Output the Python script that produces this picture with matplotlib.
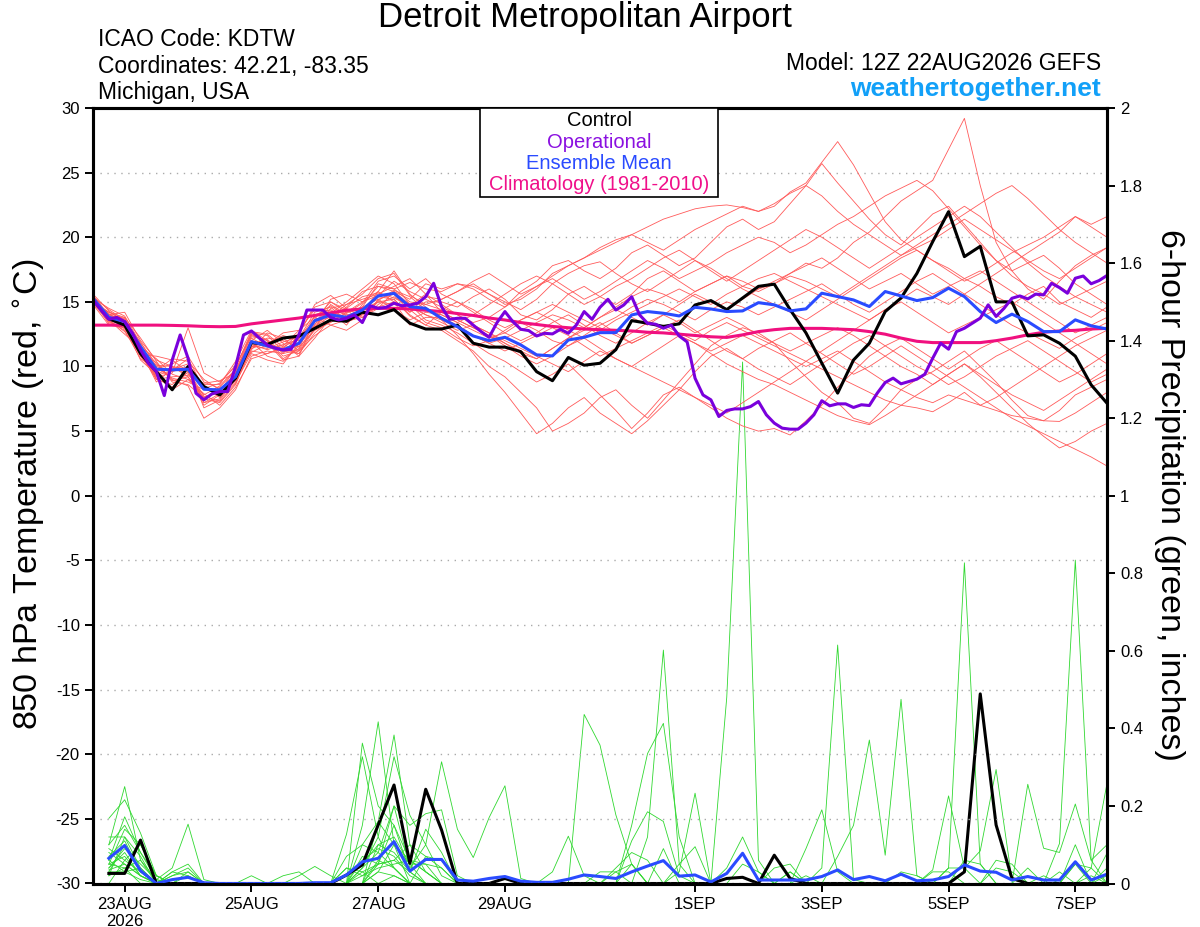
import matplotlib
matplotlib.use("Agg")
import matplotlib.pyplot as plt
from matplotlib.patches import Rectangle
import numpy as np
import pandas as pd

plt.rcParams['font.family'] = ['Liberation Sans', 'DejaVu Sans']
plt.rcParams['axes.unicode_minus'] = False

# 6-hourly ensemble times, 3-hourly operational run
times = pd.date_range("2026-08-22 12:00", periods=65, freq="6h")
times_oper = pd.date_range("2026-08-22 12:00", periods=129, freq="3h")
times_precip = times[1:]

tick_days = pd.to_datetime(["2026-08-23", "2026-08-25", "2026-08-27", "2026-08-29",
                            "2026-09-01", "2026-09-03", "2026-09-05", "2026-09-07"])
tick_names = ["23AUG\n2026", "25AUG", "27AUG", "29AUG", "1SEP", "3SEP", "5SEP", "7SEP"]

# 850 hPa temperature (C)
control_temp = [15.15, 13.7, 13.2, 11.0, 9.6, 8.2, 10.0, 8.45, 7.8, 9.1, 11.85, 11.7, 12.2, 12.35,
                12.95, 13.6, 13.5, 14.2, 14.0, 14.4, 13.35, 12.9, 12.9, 13.2, 11.8, 11.5, 11.5, 11.15,
                9.6, 8.9, 10.7, 10.1, 10.25, 11.3, 13.55, 13.35, 13.1, 13.3, 14.76, 15.1, 14.4, 15.3,
                16.2, 16.37, 14.4, 12.6, 10.26, 7.94, 10.5, 11.8, 14.25, 15.3, 17.2, 19.66, 21.98,
                18.5, 19.3, 15.0, 15.0, 12.37, 12.45, 11.8, 10.8, 8.58, 7.16]

mean_temp = [15.28, 13.81, 13.47, 11.54, 9.79, 9.74, 9.79, 8.24, 8.19, 9.22, 11.93, 11.59, 11.28, 11.8,
             13.55, 13.99, 13.81, 14.37, 15.46, 15.66, 14.63, 14.5, 13.73, 13.08, 12.36, 12.0, 12.26,
             11.67, 10.9, 10.82, 12.05, 12.26, 12.62, 12.62, 13.99, 14.25, 14.12, 13.91, 14.58, 14.45,
             14.25, 14.3, 14.94, 14.77, 14.3, 14.46, 15.67, 15.41, 15.15, 14.64, 15.8, 15.46, 15.1,
             15.33, 16.06, 15.41, 14.25, 13.4, 14.05, 13.48, 12.7, 12.7, 13.61, 13.15, 12.9]

clim_temp = [13.2, 13.2, 13.2, 13.2, 13.2, 13.18, 13.15, 13.1, 13.08, 13.1, 13.3, 13.45, 13.6, 13.75,
             13.95, 14.15, 14.35, 14.45, 14.5, 14.5, 14.45, 14.35, 14.25, 14.1, 13.95, 13.75, 13.6,
             13.4, 13.25, 13.1, 13.0, 12.9, 12.85, 12.8, 12.75, 12.65, 12.6, 12.5, 12.4, 12.3, 12.25,
             12.45, 12.7, 12.85, 12.95, 12.95, 12.95, 12.9, 12.85, 12.7, 12.5, 12.2, 11.95, 11.85,
             11.85, 11.85, 11.85, 12.0, 12.2, 12.45, 12.65, 12.75, 12.8, 12.9, 12.95]

oper_temp = [15.15, 14.37, 13.65, 13.8, 13.47, 12.57, 11.28, 10.25, 9.6, 7.75, 10.5, 12.44, 10.64, 7.93,
             7.42, 7.88, 8.06, 8.06, 10.0, 12.44, 12.75, 12.2, 11.67, 11.41, 11.28, 11.33, 12.44, 14.37,
             14.37, 14.37, 13.8, 13.6, 13.73, 13.99, 13.4, 14.7, 14.5, 14.58, 14.9, 14.7, 14.76, 14.9,
             15.4, 16.44, 14.63, 13.65, 13.73, 13.73, 13.2, 12.7, 12.26, 13.4, 14.25, 13.47, 12.88,
             12.78, 12.36, 12.57, 12.52, 12.88, 12.57, 13.2, 14.25, 13.65, 14.58, 15.2, 14.37, 14.76,
             15.4, 13.99, 13.34, 13.27, 12.96, 13.2, 12.36, 11.9, 9.09, 7.8, 7.42, 6.13, 6.6, 6.72,
             6.72, 6.9, 7.29, 6.26, 5.62, 5.23, 5.15, 5.15, 5.62, 6.26, 7.35, 6.96, 7.11, 7.11, 6.83,
             7.04, 6.98, 7.94, 8.76, 9.1, 8.66, 8.84, 9.02, 9.4, 10.64, 11.8, 11.34, 12.7, 12.96,
             13.35, 13.74, 14.77, 13.87, 14.5, 15.28, 15.46, 15.23, 15.6, 15.54, 16.44, 16.1, 15.67,
             16.83, 17.0, 16.4, 16.65, 17.04]

members_temp = [
    [15.0, 14.2, 13.6, 11.0, 9.0, 8.6, 9.8, 7.2, 7.5, 9.5, 12.4, 12.0, 10.8, 11.2, 13.0, 14.5, 14.8, 15.6, 16.8, 17.2, 15.5, 14.8,
     15.2, 15.8, 16.4, 15.6, 14.8, 15.2, 16.0, 17.2, 17.8, 18.4, 19.2, 19.8, 20.2, 20.8, 21.4, 21.8, 22.2, 22.4, 22.5, 22.3, 22.0,
     22.4, 23.5, 24.2, 25.8, 27.4, 25.6, 23.4, 21.2, 19.8, 19.0, 18.2, 17.6, 16.8, 16.2, 15.4, 14.8, 15.6, 16.2, 15.0, 14.4, 13.8, 14.6],
    [15.2, 13.5, 12.8, 10.6, 9.8, 10.2, 10.8, 8.8, 8.3, 9.0, 11.2, 11.0, 11.5, 12.2, 14.2, 14.6, 13.5, 13.8, 15.0, 15.2, 14.0, 13.2,
     12.8, 12.0, 11.2, 10.0, 9.2, 8.0, 6.8, 5.0, 5.6, 6.4, 7.6, 8.2, 7.0, 6.0, 7.4, 8.8, 10.2, 11.6, 12.4, 13.0, 12.6,
     11.8, 10.4, 9.2, 8.0, 7.2, 6.0, 5.6, 6.8, 8.2, 9.0, 9.6, 10.4, 11.2, 10.0, 8.8, 7.4, 6.2, 5.8, 6.6, 7.8, 8.4, 9.0],
    [15.5, 14.0, 14.2, 12.0, 10.5, 10.0, 9.2, 7.5, 7.2, 8.6, 11.5, 12.2, 12.0, 11.5, 12.8, 13.4, 14.2, 15.0, 15.8, 15.0, 14.2, 15.0,
     15.0, 14.6, 15.4, 16.0, 15.2, 14.0, 13.6, 14.4, 15.6, 16.2, 15.4, 14.8, 15.6, 16.8, 17.4, 16.6, 15.8, 16.4, 17.0, 16.2, 15.8,
     16.4, 17.2, 18.0, 17.6, 18.4, 19.6, 20.4, 21.6, 22.8, 23.6, 24.4, 26.8, 29.2, 24.0, 19.6, 17.4, 16.0, 15.2, 16.6, 17.8, 18.6, 19.2],
    [14.8, 13.2, 13.0, 10.8, 9.2, 9.5, 13.0, 9.5, 8.8, 10.0, 12.5, 11.8, 10.5, 10.8, 13.6, 14.2, 13.2, 14.8, 16.2, 16.0, 16.5, 16.0,
     15.8, 16.4, 16.0, 15.2, 14.6, 15.8, 16.6, 17.8, 18.2, 17.4, 16.8, 17.6, 18.8, 19.4, 18.6, 17.8, 18.4, 19.6, 20.8, 21.4, 20.6,
     21.2, 22.6, 24.0, 25.7, 24.2, 22.8, 21.4, 20.2, 19.4, 20.6, 21.8, 22.4, 21.0, 19.6, 18.2, 17.0, 16.2, 15.6, 14.8, 15.4, 16.0, 16.6],
    [15.3, 14.5, 13.9, 11.8, 10.2, 9.0, 8.5, 6.0, 6.8, 8.2, 10.8, 11.2, 11.0, 12.5, 14.8, 15.5, 14.5, 13.8, 14.5, 15.8, 14.8, 13.6,
     13.2, 12.6, 11.8, 11.0, 10.4, 9.6, 8.8, 9.4, 10.2, 9.0, 7.8, 6.6, 5.2, 6.4, 7.8, 8.4, 7.6, 6.8, 6.0, 5.4, 5.0,
     5.2, 4.7, 5.8, 7.0, 8.4, 9.6, 10.8, 11.6, 12.2, 11.4, 10.6, 9.8, 10.6, 11.4, 12.0, 11.2, 10.4, 9.6, 8.8, 9.4, 10.2, 11.0],
    [15.0, 13.6, 12.5, 11.4, 9.5, 8.2, 9.0, 7.8, 8.5, 9.8, 12.0, 12.8, 11.8, 10.8, 12.2, 13.8, 14.2, 14.6, 15.2, 14.4, 13.6, 14.2,
     14.0, 13.4, 12.8, 12.2, 12.6, 13.4, 12.8, 12.0, 11.6, 12.4, 13.2, 13.8, 14.6, 15.2, 14.8, 14.2, 13.6, 14.4, 15.0, 14.6, 14.0,
     14.6, 15.2, 15.8, 16.4, 15.6, 14.8, 14.2, 15.0, 15.8, 16.6, 17.2, 16.4, 15.6, 14.8, 14.0, 13.2, 12.6, 12.0, 11.4, 12.2, 12.8, 13.4],
    [15.4, 13.9, 13.8, 11.2, 8.8, 9.8, 10.2, 8.5, 7.6, 8.8, 11.0, 10.5, 10.2, 11.8, 13.2, 15.2, 15.6, 15.0, 15.5, 16.6, 15.8, 15.2,
     14.6, 14.0, 13.4, 13.8, 14.6, 15.4, 16.2, 16.8, 16.0, 15.2, 15.8, 16.6, 17.4, 18.2, 17.6, 16.8, 17.4, 18.0, 18.8, 19.4, 20.0,
     19.6, 18.8, 19.4, 20.2, 21.0, 21.6, 22.4, 23.2, 23.8, 24.4, 23.6, 22.2, 20.8, 19.4, 18.2, 17.4, 18.0, 18.6, 17.6, 16.4, 15.6, 14.8],
    [15.1, 14.1, 13.2, 10.9, 10.8, 10.5, 9.6, 7.0, 7.8, 9.4, 12.2, 11.5, 11.6, 12.8, 13.8, 13.2, 12.8, 13.6, 14.8, 15.4, 14.6, 14.0,
     13.4, 12.8, 13.2, 12.6, 11.8, 11.0, 10.6, 11.4, 12.2, 12.8, 13.4, 12.6, 11.8, 12.4, 13.0, 13.6, 12.8, 12.0, 11.2, 10.6, 11.4,
     12.0, 12.6, 11.8, 11.0, 10.2, 9.4, 10.0, 10.8, 11.6, 10.8, 10.0, 9.2, 8.4, 7.6, 6.8, 6.0, 5.4, 4.8, 4.2, 3.6, 3.0, 2.3],
    [15.2, 13.7, 13.5, 11.6, 9.9, 9.1, 8.8, 8.2, 8.0, 9.6, 12.6, 12.4, 11.2, 11.0, 12.6, 13.6, 14.6, 15.8, 16.2, 15.8, 15.2, 16.4,
     16.0, 16.4, 16.2, 15.6, 15.0, 14.4, 15.2, 16.4, 17.2, 17.8, 18.1, 17.2, 16.4, 15.8, 16.6, 17.4, 18.2, 17.6, 16.8, 16.0, 15.4,
     14.8, 14.2, 13.6, 14.4, 15.2, 16.0, 16.8, 17.6, 18.4, 19.0, 18.2, 17.4, 16.6, 17.2, 18.0, 18.8, 19.4, 20.0, 20.8, 21.6, 21.0, 21.6],
    [15.6, 14.3, 13.4, 11.9, 10.0, 9.6, 10.0, 6.8, 7.4, 9.0, 11.4, 11.8, 12.4, 12.0, 13.0, 14.8, 14.0, 14.2, 15.8, 17.4, 15.6, 14.6,
     13.6, 12.4, 11.0, 9.4, 8.0, 6.4, 4.8, 5.6, 6.8, 7.6, 6.4, 5.6, 4.8, 5.8, 7.0, 8.2, 9.6, 10.8, 11.4, 10.6, 9.8,
     9.2, 8.6, 9.4, 10.2, 11.0, 11.8, 12.4, 11.6, 10.8, 10.0, 9.4, 8.6, 9.2, 10.0, 10.8, 11.4, 12.0, 11.2, 10.4, 9.6, 8.8, 9.4],
    [14.9, 13.4, 13.1, 10.5, 9.4, 9.9, 9.4, 8.6, 8.6, 10.4, 12.8, 12.0, 10.6, 11.4, 14.0, 14.4, 13.6, 14.0, 14.6, 15.0, 13.2, 13.8,
     13.8, 13.2, 12.4, 11.8, 12.2, 12.8, 13.4, 14.0, 13.6, 13.0, 13.8, 14.6, 15.4, 16.0, 15.6, 15.0, 15.8, 16.4, 17.0, 16.6, 16.0,
     16.4, 17.0, 16.6, 16.0, 15.4, 16.2, 17.0, 17.8, 18.6, 19.4, 20.2, 21.0, 21.8, 22.6, 23.4, 24.0, 23.0, 21.8, 20.6, 19.6, 18.8, 18.0],
    [15.3, 13.8, 12.9, 11.1, 10.3, 8.9, 9.2, 7.6, 8.1, 9.3, 11.6, 11.4, 11.9, 12.3, 13.5, 13.8, 14.8, 15.2, 15.6, 16.2, 16.8, 15.6,
     14.2, 13.6, 13.0, 12.4, 11.6, 10.8, 10.2, 10.8, 11.6, 12.2, 11.4, 10.6, 10.0, 10.8, 11.6, 12.4, 11.8, 11.0, 10.2, 9.6, 9.0,
     8.6, 8.0, 7.4, 6.8, 6.2, 5.8, 5.5, 6.2, 7.0, 7.8, 8.6, 9.4, 10.2, 9.4, 8.6, 7.8, 7.2, 6.6, 7.4, 8.2, 9.0, 9.8],
    [15.0, 14.0, 13.7, 11.7, 9.1, 8.4, 9.6, 7.4, 8.4, 9.7, 11.9, 10.8, 10.4, 11.6, 13.7, 15.0, 14.2, 14.4, 15.0, 14.8, 14.4, 13.4,
     13.0, 12.2, 11.6, 12.0, 12.8, 13.6, 14.2, 13.6, 12.8, 12.2, 12.8, 13.6, 14.2, 14.8, 15.4, 16.0, 15.4, 14.8, 15.6, 16.2, 16.8,
     17.2, 16.6, 16.0, 15.4, 14.8, 14.2, 13.6, 14.4, 15.2, 16.0, 15.4, 14.8, 15.6, 16.4, 17.2, 18.0, 18.8, 19.6, 20.4, 21.6, 20.8, 20.0],
    [15.2, 13.3, 13.0, 11.3, 9.7, 10.6, 10.4, 9.0, 8.2, 8.9, 11.3, 12.6, 12.2, 11.2, 12.4, 13.2, 13.6, 14.6, 16.4, 16.0, 15.0, 14.8,
     14.4, 15.0, 14.2, 13.4, 12.6, 12.0, 12.6, 13.4, 14.0, 13.2, 12.4, 11.8, 12.6, 13.4, 14.0, 13.4, 12.6, 13.2, 13.8, 13.2, 12.4,
     11.8, 11.2, 11.8, 12.4, 13.0, 12.4, 11.6, 10.8, 10.0, 9.4, 8.6, 9.4, 10.2, 9.2, 8.0, 6.8, 5.6, 4.6, 3.7, 4.2, 5.0, 5.6],
    [15.4, 14.4, 13.6, 11.5, 10.6, 9.4, 9.0, 7.9, 7.0, 8.4, 10.6, 11.0, 11.4, 12.6, 14.6, 15.0, 14.4, 13.4, 15.2, 15.6, 14.2, 15.4,
     15.2, 15.8, 16.6, 17.2, 16.4, 15.6, 16.2, 17.0, 17.8, 18.4, 19.0, 19.6, 20.2, 19.6, 19.0, 19.8, 20.6, 21.2, 21.8, 22.4, 22.0,
     22.6, 23.4, 24.0, 23.2, 22.0, 21.0, 20.2, 19.4, 18.6, 19.2, 19.8, 20.6, 21.4, 20.6, 19.8, 19.0, 18.2, 17.4, 16.8, 17.6, 18.4, 19.2],
    [15.1, 13.9, 13.2, 10.8, 9.3, 9.7, 10.6, 8.3, 8.7, 10.1, 12.3, 12.1, 11.0, 11.3, 13.3, 14.1, 15.0, 16.0, 17.0, 16.4, 14.8, 14.0,
     13.6, 13.0, 12.4, 11.8, 11.2, 11.8, 12.4, 13.0, 12.4, 11.6, 10.8, 11.4, 12.0, 12.6, 13.2, 12.6, 12.0, 12.8, 13.4, 12.8, 12.2,
     11.6, 11.0, 10.4, 9.8, 9.2, 8.6, 8.0, 7.4, 7.0, 6.8, 6.5, 7.2, 8.0, 7.0, 7.6, 8.4, 9.2, 10.0, 10.8, 11.6, 12.2, 12.8],
    [15.3, 13.6, 12.7, 11.0, 10.1, 10.0, 9.8, 7.2, 7.9, 9.1, 11.7, 11.3, 11.7, 12.1, 13.9, 14.7, 13.9, 14.3, 15.4, 15.2, 13.9, 13.2,
     14.2, 13.6, 13.0, 12.4, 11.8, 11.2, 10.6, 11.4, 12.2, 13.0, 13.8, 14.4, 13.8, 13.2, 14.0, 14.8, 15.6, 15.0, 14.4, 15.2, 16.0,
     16.6, 17.2, 17.8, 18.4, 17.6, 16.8, 16.0, 16.6, 17.2, 16.4, 15.6, 16.2, 16.8, 17.4, 16.6, 15.8, 15.0, 14.2, 13.4, 12.6, 13.2, 13.8],
    [15.0, 14.2, 13.8, 12.2, 10.4, 8.8, 8.6, 7.6, 8.0, 9.9, 12.7, 12.5, 11.5, 11.0, 12.9, 13.5, 14.1, 14.9, 16.6, 17.0, 16.0, 16.8,
     15.6, 15.0, 14.4, 13.6, 13.0, 13.6, 14.2, 14.8, 14.2, 13.6, 13.0, 12.4, 11.8, 12.4, 13.0, 12.4, 11.8, 11.2, 11.8, 12.4, 11.8,
     11.2, 10.6, 10.0, 10.6, 11.2, 10.4, 9.6, 8.8, 8.2, 7.6, 7.2, 7.8, 7.4, 7.0, 6.6, 6.2, 6.0, 5.8, 5.75, 6.4, 7.2, 8.0],
    [15.5, 13.5, 13.3, 11.4, 9.0, 9.2, 9.3, 8.7, 8.9, 9.5, 11.1, 11.7, 12.6, 12.8, 14.4, 14.3, 13.4, 14.0, 15.1, 15.9, 15.4, 14.4,
     14.0, 13.4, 14.0, 14.8, 15.6, 16.4, 17.0, 16.4, 15.6, 14.8, 15.4, 16.2, 16.8, 17.6, 18.4, 19.0, 18.2, 17.4, 16.6, 17.4, 18.2,
     19.0, 19.8, 20.6, 20.0, 19.2, 18.4, 17.6, 18.4, 19.2, 20.0, 20.8, 21.6, 22.4, 21.6, 20.4, 19.2, 18.0, 17.0, 16.2, 15.4, 14.8, 14.2],
    [15.2, 14.0, 13.4, 11.2, 9.6, 9.9, 9.7, 7.7, 7.3, 8.7, 11.5, 11.9, 11.1, 11.7, 13.1, 13.9, 14.5, 15.4, 15.7, 15.3, 14.7, 15.6,
     14.8, 14.0, 13.2, 12.6, 12.0, 11.4, 10.8, 10.2, 9.6, 10.4, 11.2, 10.6, 10.0, 9.4, 8.8, 8.2, 7.6, 7.0, 6.4, 7.2, 8.0,
     8.8, 9.6, 10.4, 11.2, 12.0, 12.8, 13.6, 14.4, 15.0, 14.2, 13.4, 12.6, 13.2, 13.8, 14.4, 15.0, 14.2, 13.4, 12.6, 11.8, 11.0, 10.2],
]

# 6-hour precipitation (inches), from 18Z 22AUG
control_precip = [0.026, 0.026, 0.112, 0, 0, 0, 0, 0,
                  0, 0, 0, 0, 0, 0, 0, 0.022,
                  0.048, 0.151, 0.254, 0.052, 0.243, 0.138, 0, 0,
                  0, 0.013, 0, 0, 0, 0, 0, 0,
                  0, 0, 0, 0, 0, 0, 0, 0.013,
                  0.016, 0, 0.073, 0.013, 0, 0, 0, 0,
                  0, 0, 0, 0, 0, 0, 0.03, 0.489,
                  0.151, 0.013, 0, 0, 0, 0, 0, 0]

mean_precip = [0.065, 0.098, 0.033, 0.0, 0.01, 0.016, 0.002, 0,
               0, 0, 0, 0, 0, 0.002, 0.002, 0.022,
               0.056, 0.065, 0.108, 0.032, 0.062, 0.062, 0.009, 0.006,
               0.013, 0.018, 0.006, 0.003, 0.003, 0.011, 0.022, 0.018,
               0.013, 0.03, 0.045, 0.059, 0.019, 0.022, 0.004, 0.026,
               0.078, 0.009, 0.009, 0.009, 0.009, 0.018, 0.035, 0.01,
               0.018, 0.007, 0.024, 0.007, 0.009, 0.018, 0.048, 0.032,
               0.029, 0.009, 0.018, 0.009, 0.009, 0.056, 0.009, 0.024]

members_precip = [
    [0.10, 0.25, 0.06, 0, 0, 0, 0, 0, 0, 0, 0, 0, 0, 0, 0, 0, 0.362, 0.20, 0.15, 0.06, 0.03, 0, 0, 0,
     0, 0, 0, 0, 0, 0, 0, 0, 0, 0, 0, 0, 0, 0, 0, 0.48, 1.345, 0.06, 0, 0, 0, 0, 0, 0,
     0, 0, 0, 0, 0, 0, 0, 0, 0, 0, 0, 0, 0, 0.05, 0, 0],
    [0.168, 0.216, 0.13, 0.02, 0, 0, 0, 0, 0, 0, 0, 0, 0, 0, 0, 0, 0.15, 0.417, 0.10, 0.05, 0, 0, 0, 0,
     0, 0, 0, 0, 0, 0, 0.436, 0.357, 0.177, 0.05, 0, 0, 0, 0, 0, 0, 0, 0, 0, 0, 0, 0, 0, 0,
     0, 0, 0, 0, 0, 0.04, 0.827, 0.05, 0, 0, 0, 0, 0, 0, 0, 0],
    [0.06, 0.172, 0.08, 0.01, 0.04, 0.153, 0.01, 0, 0, 0, 0, 0, 0, 0, 0, 0, 0, 0.16, 0.383, 0.10, 0.03, 0, 0, 0,
     0, 0, 0, 0, 0, 0, 0, 0, 0, 0, 0.12, 0.602, 0.05, 0, 0, 0, 0, 0, 0, 0, 0, 0.04, 0.615, 0.01,
     0, 0, 0, 0, 0, 0, 0, 0, 0, 0, 0, 0, 0, 0, 0.04, 0.258],
    [0.05, 0.14, 0.10, 0.02, 0, 0, 0, 0, 0, 0, 0, 0, 0, 0, 0, 0.127, 0.327, 0.12, 0.327, 0.176, 0.10, 0.314, 0.14, 0.067,
     0.17, 0.252, 0.013, 0, 0, 0, 0, 0, 0, 0, 0, 0, 0, 0, 0, 0, 0, 0, 0, 0, 0, 0, 0, 0,
     0, 0, 0, 0, 0, 0, 0, 0, 0, 0, 0, 0, 0, 0, 0, 0],
    [0.12, 0.12, 0.04, 0, 0.03, 0.05, 0, 0, 0, 0, 0, 0, 0, 0, 0, 0, 0.10, 0.08, 0.20, 0.15, 0.18, 0.19, 0.02, 0,
     0, 0, 0, 0, 0, 0, 0, 0, 0, 0.15, 0.335, 0.413, 0.12, 0, 0, 0, 0, 0, 0, 0, 0, 0, 0.07, 0.15,
     0.37, 0.073, 0.475, 0.02, 0, 0, 0, 0, 0, 0, 0, 0, 0.103, 0.834, 0.06, 0],
    [0.03, 0.10, 0.03, 0, 0, 0, 0, 0, 0, 0, 0, 0, 0, 0, 0, 0, 0.07, 0.05, 0.06, 0.03, 0, 0, 0, 0,
     0, 0, 0, 0, 0.03, 0.122, 0.02, 0, 0, 0, 0, 0, 0, 0, 0, 0, 0, 0, 0, 0, 0, 0, 0, 0,
     0, 0, 0, 0, 0.035, 0.226, 0.04, 0.084, 0.294, 0.01, 0, 0, 0, 0, 0, 0],
    [0.04, 0.08, 0.02, 0, 0, 0, 0, 0, 0, 0, 0, 0, 0.02, 0.044, 0.02, 0, 0.04, 0.12, 0.04, 0, 0, 0, 0, 0,
     0, 0, 0, 0, 0, 0, 0, 0, 0, 0, 0, 0, 0.03, 0.233, 0, 0, 0, 0, 0, 0, 0, 0, 0, 0,
     0, 0, 0, 0, 0, 0, 0, 0, 0, 0, 0.256, 0.091, 0.08, 0.205, 0.06, 0.10],
    [0.09, 0.06, 0.03, 0, 0.02, 0.04, 0, 0, 0, 0, 0, 0, 0, 0, 0, 0.07, 0.10, 0.16, 0.10, 0.06, 0.03, 0, 0, 0,
     0, 0, 0, 0, 0, 0, 0, 0, 0, 0, 0, 0, 0, 0, 0, 0, 0, 0, 0, 0, 0.09, 0.19, 0.03, 0,
     0, 0, 0, 0, 0, 0, 0, 0, 0, 0, 0, 0, 0, 0, 0, 0],
    [0.08, 0.05, 0.02, 0, 0, 0, 0, 0, 0, 0.02, 0, 0, 0, 0, 0, 0, 0.04, 0.08, 0.04, 0, 0, 0, 0, 0,
     0, 0, 0, 0, 0, 0, 0, 0, 0, 0.11, 0.185, 0.16, 0.02, 0, 0, 0, 0, 0, 0, 0, 0, 0, 0, 0,
     0, 0, 0, 0, 0, 0, 0, 0, 0, 0, 0, 0, 0, 0.10, 0, 0.078],
    [0.03, 0.03, 0.01, 0, 0, 0.03, 0, 0, 0, 0, 0, 0, 0, 0, 0, 0, 0.03, 0.05, 0.15, 0.03, 0.14, 0.08, 0, 0,
     0, 0, 0, 0, 0, 0, 0, 0, 0.04, 0.08, 0.06, 0, 0, 0, 0, 0, 0, 0, 0.04, 0.05, 0, 0, 0, 0,
     0, 0, 0, 0, 0, 0, 0, 0, 0.06, 0.05, 0, 0, 0, 0, 0, 0],
    [0.02, 0.04, 0.06, 0.01, 0, 0, 0, 0, 0, 0, 0, 0, 0, 0, 0, 0.04, 0.02, 0.05, 0.06, 0.10, 0.07, 0.06, 0, 0,
     0, 0, 0, 0, 0, 0, 0, 0.03, 0.03, 0.05, 0, 0, 0, 0, 0, 0, 0, 0, 0, 0, 0, 0, 0, 0,
     0, 0, 0, 0, 0, 0, 0.06, 0.05, 0, 0, 0, 0, 0, 0, 0, 0.02],
    [0.06, 0.03, 0.04, 0, 0, 0, 0, 0, 0, 0, 0, 0.02, 0.03, 0, 0, 0, 0, 0.03, 0.02, 0, 0, 0, 0, 0,
     0, 0, 0, 0, 0, 0, 0, 0, 0, 0, 0, 0, 0, 0, 0, 0.04, 0.12, 0.03, 0, 0.03, 0, 0, 0, 0,
     0, 0, 0, 0, 0.03, 0.03, 0, 0, 0, 0, 0, 0, 0, 0, 0, 0],
    [0.05, 0.07, 0.02, 0, 0, 0, 0, 0, 0, 0, 0, 0, 0, 0, 0, 0.02, 0.05, 0.10, 0.12, 0.05, 0.05, 0.04, 0, 0,
     0, 0, 0, 0, 0, 0, 0, 0, 0, 0, 0, 0, 0, 0, 0, 0, 0.05, 0.03, 0, 0, 0, 0, 0, 0,
     0, 0, 0, 0, 0, 0, 0, 0, 0, 0, 0, 0.02, 0, 0.05, 0.04, 0],
    [0.04, 0.09, 0.05, 0.01, 0, 0.02, 0, 0, 0, 0, 0, 0, 0, 0, 0, 0, 0, 0.06, 0.04, 0, 0, 0, 0, 0,
     0, 0, 0, 0, 0, 0, 0, 0, 0, 0, 0, 0.09, 0, 0, 0, 0, 0, 0, 0, 0, 0, 0, 0, 0,
     0, 0, 0.03, 0.02, 0, 0, 0, 0, 0, 0, 0, 0, 0, 0, 0, 0],
    [0.07, 0.11, 0.03, 0, 0.02, 0.03, 0, 0, 0, 0, 0, 0, 0, 0, 0, 0, 0, 0.10, 0.08, 0.03, 0, 0, 0, 0,
     0, 0, 0, 0, 0, 0, 0, 0, 0.03, 0, 0, 0, 0.05, 0.095, 0, 0, 0, 0, 0, 0, 0.02, 0, 0, 0,
     0, 0, 0, 0, 0, 0, 0, 0, 0.04, 0.03, 0, 0, 0, 0, 0, 0],
    [0.035, 0.05, 0.02, 0, 0, 0, 0, 0, 0, 0, 0, 0, 0, 0, 0, 0, 0.02, 0.04, 0.05, 0.06, 0.05, 0, 0, 0,
     0, 0, 0, 0, 0, 0, 0, 0, 0, 0, 0, 0, 0, 0, 0, 0, 0, 0, 0, 0, 0, 0, 0, 0,
     0, 0, 0, 0, 0, 0, 0, 0, 0, 0, 0.04, 0, 0.03, 0, 0, 0],
    [0.10, 0.15, 0.08, 0.02, 0, 0, 0, 0, 0, 0, 0, 0, 0, 0, 0, 0, 0, 0.05, 0.20, 0.04, 0.10, 0.02, 0, 0,
     0, 0, 0, 0, 0, 0, 0, 0, 0, 0, 0, 0, 0, 0, 0, 0, 0, 0, 0, 0, 0, 0, 0, 0,
     0, 0, 0, 0, 0, 0, 0, 0, 0, 0, 0, 0, 0, 0, 0, 0],
    [0.02, 0.12, 0.07, 0, 0, 0, 0, 0, 0, 0, 0, 0, 0, 0, 0, 0.04, 0.03, 0, 0.02, 0, 0.07, 0.04, 0, 0,
     0, 0, 0, 0, 0, 0, 0, 0, 0, 0, 0, 0, 0, 0, 0, 0, 0, 0, 0, 0, 0, 0, 0, 0,
     0, 0, 0, 0, 0, 0.04, 0.04, 0, 0, 0, 0, 0, 0, 0, 0, 0],
    [0, 0.06, 0.10, 0.02, 0, 0, 0, 0, 0, 0, 0, 0, 0, 0, 0, 0, 0.06, 0.09, 0.07, 0.02, 0, 0, 0, 0,
     0, 0, 0, 0, 0, 0, 0, 0, 0, 0, 0, 0, 0, 0, 0, 0, 0, 0, 0, 0.03, 0, 0, 0, 0,
     0, 0, 0, 0, 0, 0, 0, 0, 0, 0, 0, 0, 0, 0, 0.02, 0],
    [0.05, 0.04, 0, 0, 0.03, 0.02, 0, 0, 0, 0, 0, 0, 0, 0, 0, 0, 0, 0.03, 0.10, 0, 0, 0, 0, 0,
     0, 0, 0, 0, 0, 0, 0, 0, 0, 0.05, 0, 0, 0, 0, 0, 0, 0, 0, 0, 0, 0, 0, 0, 0,
     0, 0, 0, 0, 0, 0, 0, 0, 0, 0, 0, 0, 0, 0, 0, 0.04],
]

bad = [("temp", k, len(m)) for k, m in enumerate(members_temp) if len(m) != len(times)]
bad += [("precip", k, len(g)) for k, g in enumerate(members_precip) if len(g) != len(times_precip)]
if bad:
    raise ValueError(f"bad member lengths: {bad}")

fig = plt.figure(figsize=(12, 9.27), dpi=100)
ax = fig.add_axes([93 / 1200, 1 - 883.5 / 927, 1014 / 1200, 775.5 / 927])
ax2 = ax.twinx()
ax.set_zorder(ax2.get_zorder() + 1)
ax.patch.set_visible(False)

for m in members_temp:
    ax.plot(times, m, color="#ff5a5a", lw=0.6)
for g in members_precip:
    ax2.plot(times_precip, g, color="#30d830", lw=0.6)

ax2.plot(times_precip, control_precip, color="black", lw=2.2)
ax2.plot(times_precip, mean_precip, color="#2a4bff", lw=2.2)

ax.plot(times, clim_temp, color="#f0107f", lw=2.2)
ax.plot(times, control_temp, color="black", lw=2.2)
ax.plot(times, mean_temp, color="#2a4bff", lw=2.2)
ax.plot(times_oper, oper_temp, color="#7a00dc", lw=2.2)

ax.set_xlim(times[0], times[-1])
ax.set_ylim(-30, 30)
ax.set_yticks(range(-30, 31, 5))
ax.yaxis.grid(True, linestyle=(0, (1, 4)), color="#aaaaaa", lw=1)
ax.set_xticks(tick_days)
ax.set_xticklabels(tick_names)
ax.tick_params(axis="both", direction="out", length=6, width=1.4, labelsize=12)

ax2.set_ylim(0, 2)
ax2.set_yticks(np.arange(0, 2.01, 0.2))
ax2.set_yticklabels(["0", "0.2", "0.4", "0.6", "0.8", "1", "1.2", "1.4", "1.6", "1.8", "2"])
ax2.tick_params(axis="y", direction="out", length=6, width=1.4, labelsize=12)

for a in (ax, ax2):
    for s in a.spines.values():
        s.set_linewidth(2.2)

fig.text(30 / 1200, 1 - 494 / 927, "850 hPa Temperature (red, $^{\\circ}$C)",
         rotation=90, ha="center", va="center", fontsize=24.5)
fig.text(1170 / 1200, 1 - 495 / 927, "6-hour Precipitation (green, inches)",
         rotation=-90, ha="center", va="center", fontsize=24.5)

fig.text(585 / 1200, 1 - 18 / 927, "Detroit Metropolitan Airport", ha="center", va="center", fontsize=25)
fig.text(98 / 1200, 1 - 40 / 927, "ICAO Code: KDTW", ha="left", va="center", fontsize=16.5)
fig.text(98 / 1200, 1 - 66 / 927, "Coordinates: 42.21, -83.35", ha="left", va="center", fontsize=16.5)
fig.text(98 / 1200, 1 - 93 / 927, "Michigan, USA", ha="left", va="center", fontsize=16.5)
fig.text(1101 / 1200, 1 - 64 / 927, "Model: 12Z 22AUG2026 GEFS", ha="right", va="center", fontsize=16.5)
fig.text(1101 / 1200, 1 - 89 / 927, "weathertogether.net", ha="right", va="center",
         fontsize=19, weight="bold", color="#12a0f8")

# legend box
fig.patches.append(Rectangle((480 / 1200, 1 - 197 / 927), 238 / 1200, 89 / 927, transform=fig.transFigure,
                             facecolor="white", edgecolor="black", lw=1.2, zorder=5))
legend_items = [("Control", "black"), ("Operational", "#8a10e0"),
                ("Ensemble Mean", "#2a4bff"), ("Climatology (1981-2010)", "#f0108a")]
for k, (label, col) in enumerate(legend_items):
    fig.text(599 / 1200, 1 - (121 + 21.3 * k) / 927, label, ha="center", va="center",
             fontsize=14.5, color=col, zorder=6)

fig.savefig("out.png", dpi=100)
